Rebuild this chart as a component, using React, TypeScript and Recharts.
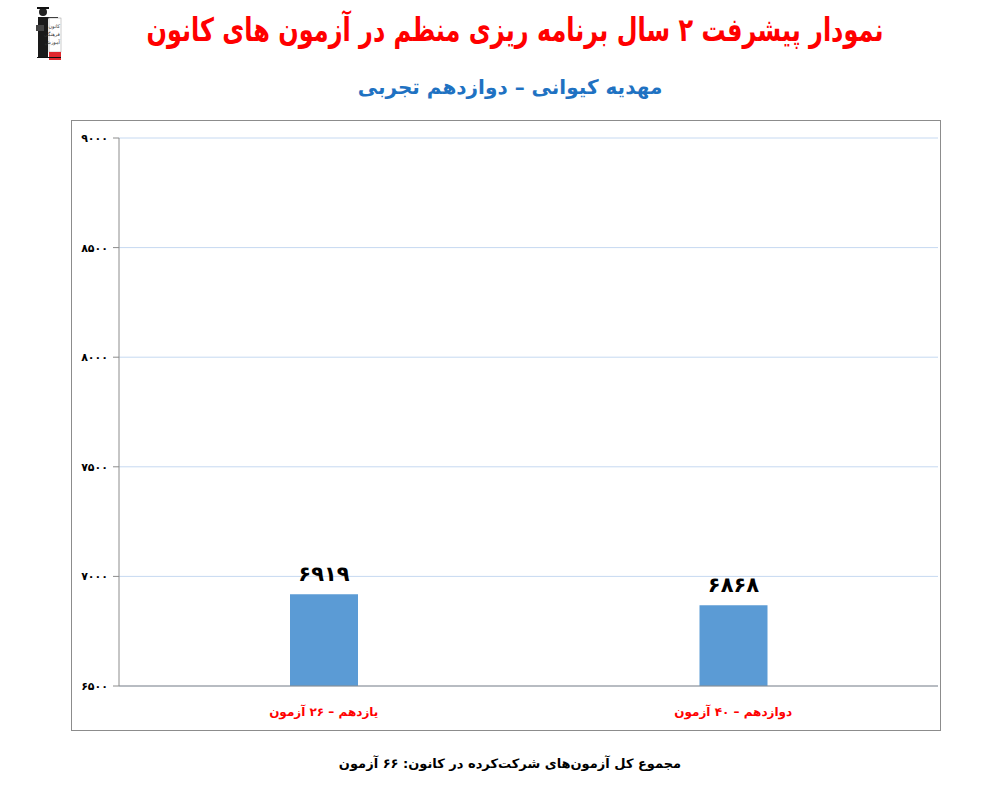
import React from 'react';
import { BarChart, Bar, XAxis, YAxis, CartesianGrid, LabelList } from 'recharts';

const categories = ['یازدهم – ۲۶ آزمون', 'دوازدهم – ۴۰ آزمون'];
const scores = [6919, 6868];
const yTicks = [6500, 7000, 7500, 8000, 8500, 9000];

const titleText = 'نمودار پیشرفت ۲ سال برنامه ریزی منظم در آزمون های کانون';
const subtitleText = 'مهدیه کیوانی – دوازدهم تجربی';
const footerText = 'مجموع کل آزمون‌های شرکت‌کرده در کانون:  ۶۶ آزمون';

const data = categories.map((c, i) => ({ name: c, value: scores[i] }));

const fa = (v: number | string) =>
  String(v).replace(/[0-9]/g, (d) => '۰۱۲۳۴۵۶۷۸۹'[Number(d)]);

const FONT = '"DejaVu Sans", sans-serif';

const Logo = () => (
  <svg width={30} height={58} style={{ position: 'absolute', left: 34, top: 3 }}>
    <circle cx={9} cy={9} r={4} fill="#222" />
    <rect x={3} y={4} width={12} height={2} fill="#111" />
    <rect x={4} y={14} width={10} height={40} fill="#1a1a1a" />
    <rect x={2} y={22} width={8} height={6} fill="#444" />
    <rect x={14} y={14} width={10} height={1.5} fill="#222" />
    <rect x={15} y={15} width={12} height={34} fill="#fff" stroke="#999" strokeWidth={0.5} />
    <text x={26} y={25} fontSize={5} textAnchor="end" fill="#333" fontFamily={FONT}>کانون</text>
    <text x={26} y={33} fontSize={5} textAnchor="end" fill="#333" fontFamily={FONT}>فرهنگی</text>
    <text x={26} y={41} fontSize={5} textAnchor="end" fill="#333" fontFamily={FONT}>آموزش</text>
    <rect x={15} y={49} width={12} height={8} fill="#e0282e" />
    <rect x={3} y={54} width={24} height={1} fill="#111" />
  </svg>
);

export default function App() {
  return (
    <div style={{ position: 'absolute', left: 0, top: 0, width: 982, height: 789, background: '#fff', overflow: 'hidden' }}>
      <Logo />
      <div
        style={{
          position: 'absolute', left: 100, width: 830, top: 15, height: 30, lineHeight: '30px', textAlign: 'center',
          fontFamily: FONT, fontWeight: 'bold', fontSize: 24, color: '#ff0000', direction: 'rtl', whiteSpace: 'nowrap',
          transform: 'scaleY(1.35)',
        }}
      >
        {titleText}
      </div>
      <div
        style={{
          position: 'absolute', left: 0, width: 1020, top: 75, textAlign: 'center',
          fontFamily: FONT, fontWeight: 'bold', fontSize: 20, color: '#1f72c2', direction: 'rtl', whiteSpace: 'nowrap',
        }}
      >
        {subtitleText}
      </div>
      <div style={{ position: 'absolute', left: 71, top: 120, width: 870, height: 611, boxSizing: 'border-box', border: '1px solid #8c8c8c' }} />
      <div style={{ position: 'absolute', left: 71, top: 120 }}>
        <BarChart width={870} height={611} data={data} margin={{ top: 18, right: 3, bottom: 0, left: 0 }}>
          <CartesianGrid vertical={false} stroke="#c6d9f1" strokeWidth={1} />
          <XAxis
            dataKey="name"
            height={45}
            axisLine={{ stroke: '#8c8c8c' }}
            tickLine={false}
            tick={{ fill: '#ff0000', fontSize: 12, fontWeight: 'bold', fontFamily: FONT }}
            tickMargin={15}
          />
          <YAxis
            width={48}
            domain={[6500, 9000]}
            ticks={yTicks}
            interval={0}
            axisLine={{ stroke: '#8c8c8c' }}
            tickLine={{ stroke: '#8c8c8c' }}
            tickSize={6}
            tickMargin={5}
            tickFormatter={(v: number) => fa(v)}
            tick={{ fill: '#000', fontSize: 11, fontWeight: 'bold', fontFamily: FONT }}
          />
          <Bar dataKey="value" fill="#5b9bd5" barSize={68} isAnimationActive={false}>
            <LabelList
              dataKey="value"
              position="top"
              offset={13}
              formatter={(v: number) => fa(v)}
              style={{ fill: '#000', fontSize: 21, fontWeight: 'bold', fontFamily: FONT }}
            />
          </Bar>
        </BarChart>
      </div>
      <div
        style={{
          position: 'absolute', left: 0, width: 1020, top: 756, textAlign: 'center',
          fontFamily: FONT, fontWeight: 'bold', fontSize: 13, color: '#000', direction: 'rtl', whiteSpace: 'nowrap',
        }}
      >
        {footerText}
      </div>
    </div>
  );
}
